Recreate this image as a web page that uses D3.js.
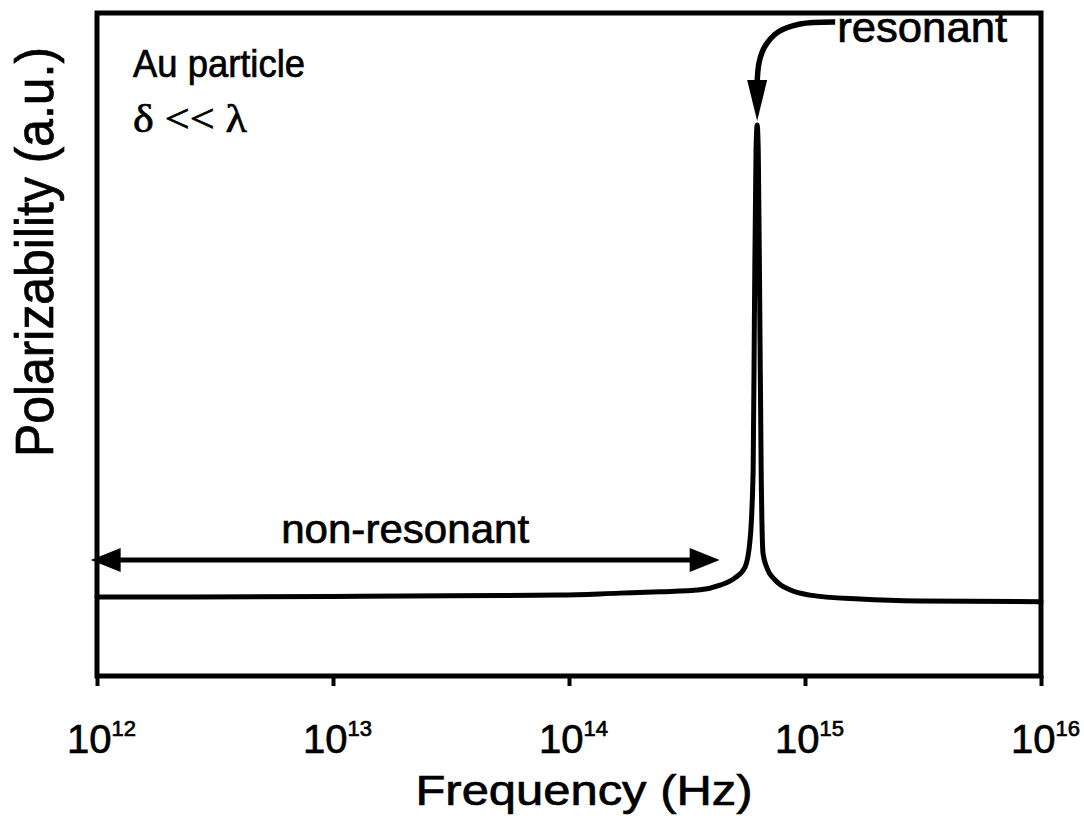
<!DOCTYPE html>
<html>
<head>
<meta charset="utf-8">
<script src="https://cdn.jsdelivr.net/npm/d3@7"></script>
<style>
  body { margin: 0; background: #fff; }
  svg { display: block; }
  text { stroke: #000; stroke-width: 0.7px; }
</style>
</head>
<body>
<div id="chart"></div>
<script>
// polarizability of a small Au particle vs frequency (log axis)
var freqHz = [1e12, 1e13, 3.13e13, 9.16e13, 1.64e14, 2.43e14, 3.59e14, 4.37e14, 5.05e14, 5.57e14,
  5.85e14, 6.03e14, 6.11e14, 6.20e14, 6.27e14, 6.34e14, 6.43e14, 6.52e14, 6.64e14, 6.90e14,
  7.46e14, 8.63e14, 1.05e15, 1.71e15, 3.07e15, 1e16];
var polar = [1.19, 1.20, 1.21, 1.22, 1.25, 1.27, 1.30, 1.37, 1.48, 1.64,
  2.05, 3.11, 5.60, 7.90, 8.31, 7.90, 5.60, 3.11, 1.85, 1.63,
  1.45, 1.30, 1.22, 1.16, 1.13, 1.12];

var tickExps = [12, 13, 14, 15, 16];
var nonResSpan = [9.4e11, 4.35e14], nonResLevel = 1.75; // double arrow

var width = 1084, height = 835;
var margin = {top: 13, right: 43, bottom: 159, left: 97};

var svg = d3.select('#chart')
  .append('svg')
  .attr('width', width)
  .attr('height', height);

var x = d3.scaleLog()
  .domain([1e12, 1e16])
  .range([margin.left, width - margin.right]);

var y = d3.scaleLinear()
  .domain([0, 10])
  .range([height - margin.bottom, margin.top]);

var font = '"Liberation Sans", Arial, sans-serif';

// bottom ticks with 10^n labels
var xAxis = d3.axisBottom(x)
  .tickValues(tickExps.map(function(e) { return Math.pow(10, e); }))
  .tickSize(10)
  .tickFormat('');

var gx = svg.append('g')
  .attr('transform', 'translate(0,' + y(0) + ')')
  .call(xAxis);
gx.select('.domain').remove();
gx.selectAll('.tick line').attr('stroke', '#000').attr('stroke-width', 4);
gx.selectAll('.tick text')
  .attr('x', 4)
  .attr('y', 77)
  .attr('dy', 0)
  .attr('text-anchor', 'middle')
  .attr('font-family', font)
  .attr('fill', '#000')
  .each(function(d, i) {
    var t = d3.select(this);
    t.append('tspan').attr('font-size', 40).text('10');
    t.append('tspan').attr('font-size', 22).attr('dy', -17).text(tickExps[i]);
  });

// plot frame
svg.append('rect')
  .attr('x', x(1e12))
  .attr('y', y(10))
  .attr('width', x(1e16) - x(1e12))
  .attr('height', y(0) - y(10))
  .attr('fill', 'none')
  .attr('stroke', '#000')
  .attr('stroke-width', 5);

// curve
var line = d3.line()
  .x(function(d, i) { return x(freqHz[i]); })
  .y(function(d) { return y(d); })
  .curve(d3.curveMonotoneX);

svg.append('path')
  .attr('d', line(polar))
  .attr('fill', 'none')
  .attr('stroke', '#000')
  .attr('stroke-width', 5)
  .attr('stroke-linejoin', 'round')
  .attr('stroke-linecap', 'round');

// non-resonant double arrow
var ay = y(nonResLevel), ax0 = x(nonResSpan[0]), ax1 = x(nonResSpan[1]);
svg.append('line')
  .attr('x1', ax0 + 20).attr('x2', ax1 - 20)
  .attr('y1', ay).attr('y2', ay)
  .attr('stroke', '#000').attr('stroke-width', 5);
svg.append('path')
  .attr('d', 'M' + ax0 + ',' + ay + 'L' + (ax0 + 30) + ',' + (ay - 12) + 'L' + (ax0 + 30) + ',' + (ay + 12) + 'Z'
    + 'M' + ax1 + ',' + ay + 'L' + (ax1 - 30) + ',' + (ay - 12) + 'L' + (ax1 - 30) + ',' + (ay + 12) + 'Z')
  .attr('fill', '#000');

svg.append('text')
  .attr('x', (ax0 + ax1) / 2)
  .attr('y', ay - 17)
  .attr('text-anchor', 'middle')
  .attr('font-family', font)
  .attr('font-size', 40)
  .attr('textLength', 248)
  .attr('lengthAdjust', 'spacingAndGlyphs')
  .text('non-resonant');

// resonant curved arrow, pointing at the peak
var px = x(6.27e14), py = y(8.31);
var arc = d3.line().curve(d3.curveCatmullRom);
svg.append('path')
  .attr('d', arc([[px + 78, py - 103], [px + 43, py - 101], [px + 21, py - 93], [px + 8, py - 79], [px + 2, py - 63], [px, py - 42]]))
  .attr('fill', 'none')
  .attr('stroke', '#000')
  .attr('stroke-width', 5.5);
svg.append('path')
  .attr('d', 'M' + px + ',' + (py - 4) + 'L' + (px - 10) + ',' + (py - 45) + 'L' + (px + 10) + ',' + (py - 45) + 'Z')
  .attr('fill', '#000');

svg.append('text')
  .attr('x', px + 80)
  .attr('y', py - 83)
  .attr('font-family', font)
  .attr('font-size', 43)
  .attr('textLength', 170)
  .attr('lengthAdjust', 'spacingAndGlyphs')
  .text('resonant');

// labels in upper left
svg.append('text')
  .attr('x', 133).attr('y', 77)
  .attr('font-family', font)
  .attr('font-size', 38)
  .attr('textLength', 172)
  .attr('lengthAdjust', 'spacingAndGlyphs')
  .text('Au particle');

svg.append('text')
  .attr('x', 133).attr('y', 132)
  .attr('font-family', '"Liberation Serif", "Times New Roman", serif')
  .attr('font-size', 40)
  .attr('textLength', 114)
  .attr('lengthAdjust', 'spacingAndGlyphs')
  .text('δ << λ');

// axis titles
svg.append('text')
  .attr('x', 584).attr('y', 805)
  .attr('text-anchor', 'middle')
  .attr('font-family', font)
  .attr('font-size', 43)
  .attr('textLength', 337)
  .attr('lengthAdjust', 'spacingAndGlyphs')
  .text('Frequency (Hz)');

svg.append('text')
  .attr('transform', 'translate(53,252) rotate(-90)')
  .attr('text-anchor', 'middle')
  .attr('font-family', font)
  .attr('font-size', 53)
  .attr('textLength', 410)
  .attr('lengthAdjust', 'spacingAndGlyphs')
  .text('Polarizability (a.u.)');
</script>
</body>
</html>
